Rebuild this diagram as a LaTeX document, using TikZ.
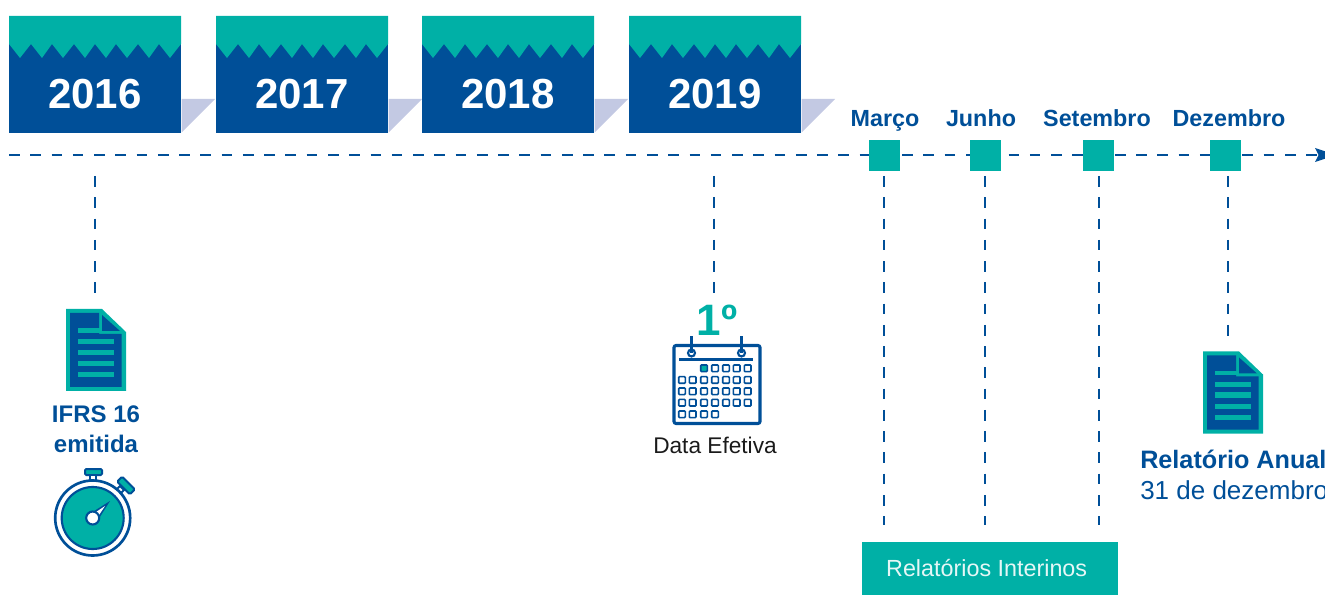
\documentclass[tikz,border=0pt]{standalone}
\usepackage{fontspec}
\setmainfont{Liberation Sans}
\usetikzlibrary{arrows.meta}
\definecolor{navy}{HTML}{004F98}
\definecolor{teal2}{HTML}{00B0A6}
\definecolor{lav}{HTML}{C3C9E3}
\definecolor{ink}{HTML}{1A1A1A}
\tikzset{
  x=0.75pt,y=-0.75pt,
  dashline/.style={navy,line width=2.15pt,dash pattern=on 8pt off 7.95pt},
  squaremark/.style={fill=teal2,minimum size=23.25pt,inner sep=0pt,outer sep=0pt},
  monthlabel/.style={navy,font=\fontsize{17.5}{20}\selectfont\bfseries,anchor=base,inner sep=0pt},
  blueb/.style={navy,font=\fontsize{18}{22.5}\selectfont\bfseries,inner sep=0pt},
  yearcard/.pic={
    \fill[navy] (0,0) rectangle (172,117);
    \fill[teal2] (0,0) -- (172,0) -- (172,28) -- (161,42) -- (150,28) -- (140,42) -- (129,28) -- (118,42) -- (107,28) -- (97,42) -- (86,28) -- (76,42) -- (65,28) -- (54,42) -- (43,28) -- (33,42) -- (22,28) -- (11,42) -- (0,28) -- cycle;
    \fill[lav] (172.7,83) -- (206,83) -- (172.7,116.5) -- cycle;
    \node[white,font=\fontsize{31.5}{36}\selectfont\bfseries,anchor=base,inner sep=0pt] (label) at (86,93) {#1};
  },
  docicon/.pic={
    \fill[teal2] (0,0) -- (36,0) -- (60,23) -- (60,82) -- (0,82) -- cycle;
    \fill[navy] (4,4) -- (33,4) -- (33,25) -- (55.5,25) -- (55.5,78) -- (4,78) -- cycle;
    \fill[navy] (36,6) -- (54,22) -- (36,22) -- cycle;
    \fill[teal2] (12,19.5) rectangle (34,24);
    \foreach \yy in {30.5,41,52,63}{\fill[teal2] (12,\yy) rectangle (48,\yy+5);}
  },
}
\begin{document}
\begin{tikzpicture}
\useasboundingbox (0,0) rectangle (1325,595);
\clip (0,0) rectangle (1325,595);
% year cards
\pic (c16) at (9,16) {yearcard=2016};
\pic (c17) at (216,16) {yearcard=2017};
\pic (c18) at (422,16) {yearcard=2018};
\pic (c19) at (629,16) {yearcard=2019};
% axis
\coordinate (axisstart) at (9,155);
\coordinate (axisend) at (1336,155);
\draw[dashline] (axisstart) -- (1318,155);
\fill[navy] (1315,148) -- (axisend) -- (1315,162) -- (1318.5,155) -- cycle;
% month squares
\node[squaremark] (mar) at (884.5,155.5) {};
\node[squaremark] (jun) at (985.5,155.5) {};
\node[squaremark] (set) at (1098.5,155.5) {};
\node[squaremark] (dez) at (1225.5,155.5) {};
\node[monthlabel] (lmar) at (885,127) {Março};
\node[monthlabel] (ljun) at (981,127) {Junho};
\node[monthlabel] (lset) at (1097,127) {Setembro};
\node[monthlabel] (ldez) at (1229,127) {Dezembro};
% interim box
\node[fill=teal2,minimum width=192pt,minimum height=39.75pt,inner sep=0pt,outer sep=0pt,text=white!90!teal2,font=\fontsize{17.5}{20}\selectfont] (rel) at (990,568.5) {Relatórios Interinos\kern5pt};
% connectors
\coordinate (a16) at (95,176);
\coordinate (b16) at (95,295);
\coordinate (a19) at (714,176);
\coordinate (b19) at (714,295);
\coordinate (adez) at (1228,176);
\coordinate (bdez) at (1228,337);
\coordinate (amar) at (884,176);
\coordinate (ajun) at (985,176);
\coordinate (aset) at (1099,176);
\draw[dashline] (a16) -- (b16);
\draw[dashline] (a19) -- (b19);
\draw[dashline] (adez) -- (bdez);
\draw[dashline,shorten >=12.75pt] (amar) -- (amar |- rel.north);
\draw[dashline,shorten >=12.75pt] (ajun) -- (ajun |- rel.north);
\draw[dashline,shorten >=12.75pt] (aset) -- (aset |- rel.north);
% documents
\pic at (66,309) {docicon};
\pic at (1203,351.5) {docicon};
\node[blueb,align=center] (ifrs) at (96,429) {IFRS 16\\emitida};
\node[navy,inner sep=0pt,anchor=base west,font=\fontsize{18.9}{20}\selectfont\bfseries] (anual) at (1140,468) {Relatório Anual};
\node[navy,inner sep=0pt,anchor=base west,font=\fontsize{19.5}{20}\selectfont] (dia) at (1140,499) {31 de dezembro};
% stopwatch
\fill[teal2,draw=navy,line width=1.5pt,rounded corners=1pt] (85,469) rectangle (102,475);
\draw[navy,line width=1.5pt,fill=white] (90,475) rectangle (96,481);
\draw[navy,line width=1.5pt,fill=white] (116,490) -- (120,494) -- (124,490) -- (120,486) -- cycle;
\draw[navy,line width=1.5pt,fill=teal2,rounded corners=1pt,rotate around={-45:(126,485.5)}] (117,482) rectangle (135,489);
\draw[navy,line width=2pt,fill=white] (92.7,518) circle (37.5);
\draw[navy,line width=1.6pt,fill=teal2] (92.7,518) circle (31);
\fill[navy] (110,501) -- (91,513) -- (98,520) -- cycle;
\fill[white] (105,506) -- (93,514) -- (97,518) -- cycle;
\draw[navy,line width=1.6pt,fill=white] (92.7,518) circle (6.5);
% calendar
\node[teal2,inner sep=0pt,anchor=base,font=\fontsize{33}{36}\selectfont\bfseries] (first) at (717,336) {1º};
\draw[navy,line width=2.3pt,rounded corners=1.5pt,fill=white] (674,345.5) rectangle (760,423.5);
\draw[navy,line width=2.3pt] (679,359.5) -- (753,359.5);
\foreach \cx in {691.5,741.5}{
  \draw[navy,line width=1.6pt,fill=white] (\cx,353) circle (3.5);
  \draw[navy,line width=2pt] (\cx,336.5) -- (\cx,353);
}
\foreach \cx/\cy in {
 715/368.3,726/368.3,736.7/368.3,747.7/368.3,
 682/380,692.7/380,704/380,715/380,726/380,736.7/380,747.7/380,
 682/391.3,692.7/391.3,704/391.3,715/391.3,726/391.3,736.7/391.3,747.7/391.3,
 682/402.7,692.7/402.7,704/402.7,715/402.7,726/402.7,736.7/402.7,747.7/402.7,
 682/414.3,692.7/414.3,704/414.3,715/414.3}{
  \draw[navy,line width=1.2pt,rounded corners=0.6pt,fill=white] (\cx-3.3,\cy-3.3) rectangle (\cx+3.3,\cy+3.3);
}
\draw[navy,line width=1.2pt,rounded corners=0.6pt,fill=teal2] (700.7,365) rectangle (707.3,371.6);
\node[ink,inner sep=0pt,anchor=base,font=\fontsize{17}{20}\selectfont] (data) at (715,453) {Data Efetiva};
\end{tikzpicture}
\end{document}
